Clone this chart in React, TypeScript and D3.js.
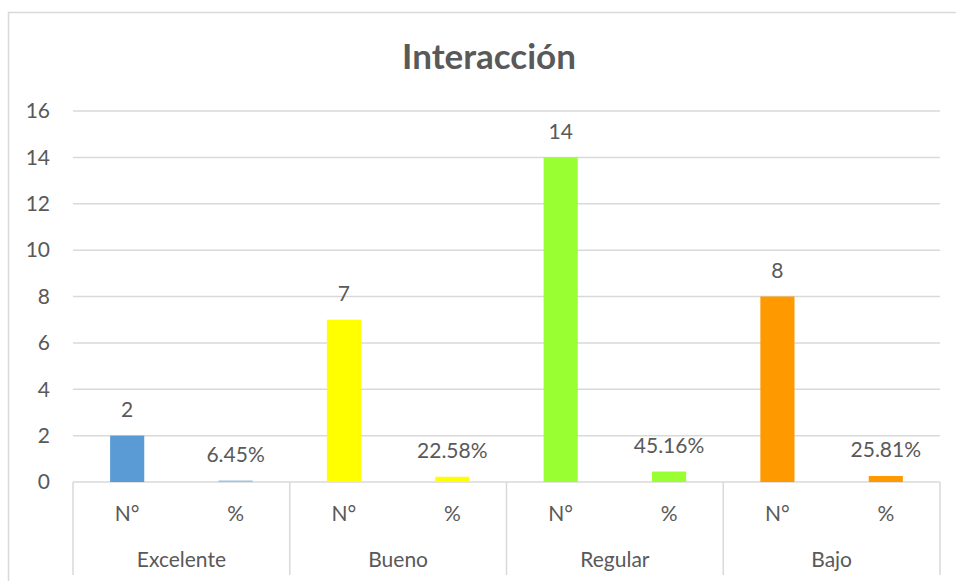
import React from 'react';
import * as d3 from 'd3';

const W = 956;
const H = 581;
const margin = { top: 111, right: 16, bottom: 99, left: 73 };

const groups = ['Excelente', 'Bueno', 'Regular', 'Bajo'];
const subLabels = ['N°', '%'];
const counts = [2, 7, 14, 8];
const percents = [0.0645, 0.2258, 0.4516, 0.2581];
const percentLabels = ['6.45%', '22.58%', '45.16%', '25.81%'];
const countColors = ['#5B9BD5', '#FFFF00', '#99FF33', '#FF9900'];
const percentColors = ['#9DC3E6', '#FFFF00', '#99FF33', '#FF9900'];
const yTicks = [0, 2, 4, 6, 8, 10, 12, 14, 16];

const font = 'Lato, "Open Sans", sans-serif';
const textColor = '#595959';
const gridColor = '#D9D9D9';
const fs = 21;

const App = () => {
  const plotRight = W - margin.right;
  const plotBottom = H - margin.bottom;

  const bars = groups.flatMap((g, i) => [
    { key: g + '-n', sub: subLabels[0], group: g, value: counts[i], label: String(counts[i]), color: countColors[i] },
    { key: g + '-p', sub: subLabels[1], group: g, value: percents[i], label: percentLabels[i], color: percentColors[i] }
  ]);

  const x = d3.scaleBand()
    .domain(bars.map(d => d.key))
    .range([margin.left, plotRight])
    .paddingInner(0.685)
    .paddingOuter(0.3425);

  const groupScale = d3.scaleBand()
    .domain(groups)
    .range([margin.left, plotRight]);

  const y = d3.scaleLinear()
    .domain([0, 16])
    .range([plotBottom, margin.top]);

  return (
    <svg width={W} height={H} style={{ position: 'absolute', left: 0, top: 0 }}>
      <rect x={0} y={0} width={W} height={H} fill="#fff" />
      {/* chart border */}
      <path d={`M8.5,${H} V12.5 H${W}`} fill="none" stroke={gridColor} strokeWidth={1.5} />

      <text x={489} y={69} textAnchor="middle" fontFamily={font} fontWeight="bold" fontSize={35} fill={textColor}>
        Interacción
      </text>

      {/* grid + y labels */}
      {yTicks.map(t => (
        <g key={t}>
          <line x1={margin.left} x2={plotRight} y1={y(t)} y2={y(t)} stroke={gridColor} strokeWidth={1.5} />
          <text x={margin.left - 23} y={y(t)} dy="0.35em" textAnchor="end" fontFamily={font} fontSize={fs} fill={textColor}>
            {t}
          </text>
        </g>
      ))}

      {/* bars */}
      {bars.map(d => (
        <g key={d.key}>
          <rect x={x(d.key)} y={y(d.value)} width={x.bandwidth()} height={plotBottom - y(d.value)} fill={d.color} />
          <text
            x={x(d.key) + x.bandwidth() / 2}
            y={y(d.value) - 26}
            dy="0.35em"
            textAnchor="middle"
            fontFamily={font}
            fontSize={fs}
            fill={textColor}
          >
            {d.label}
          </text>
        </g>
      ))}

      {/* category axis */}
      {groups.map(g => (
        <line key={g} x1={groupScale(g)} x2={groupScale(g)} y1={plotBottom} y2={575} stroke={gridColor} strokeWidth={1.5} />
      ))}
      <line x1={plotRight} x2={plotRight} y1={plotBottom} y2={575} stroke={gridColor} strokeWidth={1.5} />

      {bars.map(d => (
        <text key={d.key + '-t'} x={x(d.key) + x.bandwidth() / 2} y={514} dy="0.35em" textAnchor="middle" fontFamily={font} fontSize={fs} fill={textColor}>
          {d.sub}
        </text>
      ))}
      {groups.map(g => (
        <text key={g + '-g'} x={groupScale(g) + groupScale.bandwidth() / 2} y={560} dy="0.35em" textAnchor="middle" fontFamily={font} fontSize={fs} fill={textColor}>
          {g}
        </text>
      ))}
    </svg>
  );
};

export default App;
